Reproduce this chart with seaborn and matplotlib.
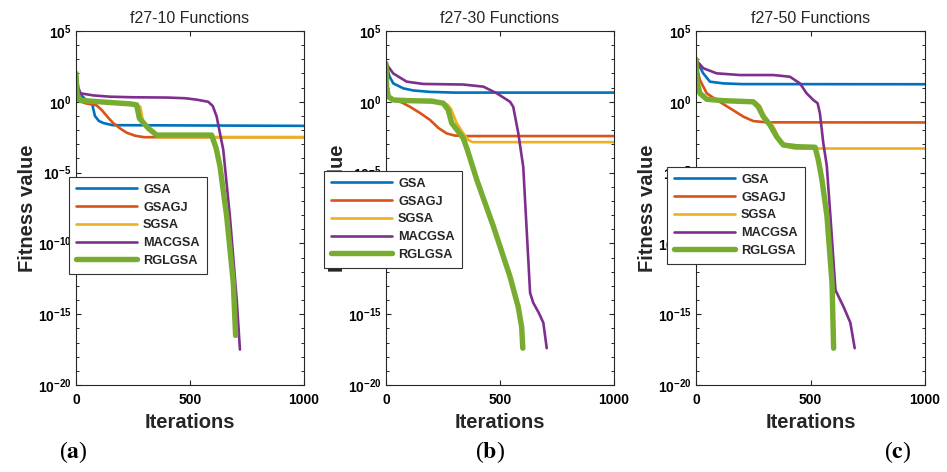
import numpy as np
import pandas as pd
import matplotlib
matplotlib.use('Agg')
import matplotlib.pyplot as plt
import seaborn as sns
from matplotlib.ticker import FixedLocator, NullFormatter

# Values: iteration and log10(fitness value)
algos = ['GSA', 'GSAGJ', 'SGSA', 'MACGSA', 'RGLGSA']
colors = ['#0072BD', '#D95319', '#EDB120', '#7E2F8E', '#77AC30']
titles = ['f27-10 Functions', 'f27-30 Functions', 'f27-50 Functions']
panel_tags = ['a', 'b', 'c']

# f27-10
gsa_10_it = [0, 10, 45, 70, 83, 100, 120, 160, 1000]
gsa_10_lg = [1.9, 0.7, 0.1, -0.1, -1.0, -1.35, -1.5, -1.65, -1.7]
gsagj_10_it = [0, 8, 40, 90, 113, 140, 163, 195, 222, 260, 300, 1000]
gsagj_10_lg = [1.9, 0.1, -0.1, -0.25, -0.58, -1.1, -1.5, -1.9, -2.18, -2.4, -2.5, -2.5]
sgsa_10_it = [0, 8, 40, 150, 260, 282, 292, 300, 330, 360, 1000]
sgsa_10_lg = [1.9, 0.2, 0.0, -0.1, -0.2, -0.35, -1.2, -1.5, -2.1, -2.5, -2.5]
macgsa_10_it = [0, 10, 20, 76, 150, 250, 400, 480, 530, 580, 600, 617, 646, 675, 705, 719]
macgsa_10_lg = [2.0, 1.0, 0.6, 0.45, 0.36, 0.32, 0.3, 0.25, 0.15, 0.0, -0.3, -1.05, -3.4, -8.1, -14.0, -17.5]
rgl_10_it = [0, 5, 20, 60, 150, 240, 266, 278, 317, 354, 595, 615, 632, 661, 690, 700]
rgl_10_lg = [2.0, 0.5, 0.1, 0.05, -0.05, -0.15, -0.22, -1.17, -1.87, -2.35, -2.35, -3.3, -4.6, -8.1, -12.8, -16.5]

# f27-30
gsa_30_it = [0, 15, 32, 76, 120, 193, 300, 1000]
gsa_30_lg = [2.7, 1.8, 1.3, 0.95, 0.8, 0.7, 0.65, 0.65]
gsagj_30_it = [0, 10, 32, 70, 105, 150, 193, 230, 266, 300, 340, 1000]
gsagj_30_lg = [2.7, 0.3, 0.13, -0.05, -0.35, -0.8, -1.28, -1.85, -2.23, -2.38, -2.42, -2.42]
sgsa_30_it = [0, 10, 40, 150, 250, 270, 285, 310, 339, 361, 380, 1000]
sgsa_30_lg = [2.7, 0.3, 0.05, 0.0, -0.05, -0.2, -0.5, -1.5, -2.23, -2.7, -2.85, -2.85]
macgsa_30_it = [0, 32, 91, 164, 250, 339, 427, 486, 520, 544, 558, 580, 602, 632, 646, 670, 690, 705]
macgsa_30_lg = [2.7, 2.0, 1.42, 1.26, 1.24, 1.22, 1.07, 0.6, 0.25, 0.0, -0.35, -2.2, -4.6, -13.5, -14.2, -14.9, -15.6, -17.4]
rgl_30_it = [0, 3, 10, 32, 100, 200, 251, 273, 288, 317, 339, 357, 398, 471, 544, 580, 595, 600]
rgl_30_lg = [2.7, 1.0, 0.36, 0.13, 0.08, 0.05, -0.1, -0.58, -1.5, -2.1, -2.58, -3.4, -5.5, -8.8, -12.35, -14.5, -15.9, -17.4]

# f27-50
gsa_50_it = [0, 15, 32, 61, 119, 200, 1000]
gsa_50_lg = [2.95, 2.5, 2.0, 1.42, 1.3, 1.25, 1.24]
gsagj_50_it = [0, 10, 17, 47, 90, 149, 207, 250, 308, 1000]
gsagj_50_lg = [2.95, 2.0, 1.54, 0.6, 0.13, -0.46, -1.05, -1.36, -1.45, -1.46]
sgsa_50_it = [0, 3, 17, 47, 119, 260, 280, 301, 338, 367, 396, 430, 1000]
sgsa_50_lg = [3.0, 1.54, 0.6, 0.18, 0.08, 0.0, -0.3, -1.05, -1.76, -2.7, -3.17, -3.3, -3.3]
macgsa_50_it = [0, 32, 90, 192, 338, 410, 454, 483, 512, 531, 541, 556, 571, 587, 609, 645, 674, 693]
macgsa_50_lg = [2.95, 2.37, 2.01, 1.89, 1.89, 1.77, 1.3, 0.6, 0.13, -0.1, -0.8, -2.93, -4.5, -8.1, -13.3, -14.5, -15.6, -17.4]
rgl_50_it = [0, 3, 17, 47, 119, 250, 272, 294, 323, 352, 381, 440, 520, 534, 550, 572, 594, 601]
rgl_50_lg = [3.0, 1.54, 0.6, 0.18, 0.08, 0.0, -0.35, -1.05, -1.64, -2.46, -3.05, -3.17, -3.21, -4.1, -5.5, -8.1, -12.8, -17.4]

panels = [
    [(gsa_10_it, gsa_10_lg), (gsagj_10_it, gsagj_10_lg), (sgsa_10_it, sgsa_10_lg),
     (macgsa_10_it, macgsa_10_lg), (rgl_10_it, rgl_10_lg)],
    [(gsa_30_it, gsa_30_lg), (gsagj_30_it, gsagj_30_lg), (sgsa_30_it, sgsa_30_lg),
     (macgsa_30_it, macgsa_30_lg), (rgl_30_it, rgl_30_lg)],
    [(gsa_50_it, gsa_50_lg), (gsagj_50_it, gsagj_50_lg), (sgsa_50_it, sgsa_50_lg),
     (macgsa_50_it, macgsa_50_lg), (rgl_50_it, rgl_50_lg)],
]

sns.set_theme(style='ticks')
plt.rcParams['font.family'] = ['Liberation Sans', 'DejaVu Sans']
plt.rcParams['font.weight'] = 'bold'
plt.rcParams['mathtext.fontset'] = 'custom'
plt.rcParams['mathtext.rm'] = 'Liberation Sans:bold'
plt.rcParams['mathtext.bf'] = 'Liberation Sans:bold'
plt.rcParams['axes.edgecolor'] = '#262626'
plt.rcParams['axes.linewidth'] = 0.8

fig = plt.figure(figsize=(9.47, 4.72), dpi=100)

ax_lefts = [76 / 947, 386 / 947, 696 / 947]
ax_widths = [228 / 947, 228 / 947, 229 / 947]
legend_anchor = [(-0.031, 0.588), (-0.272, 0.605), (-0.127, 0.616)]
tag_x = [73 / 947, 490 / 947, 898 / 947]

for i in range(3):
    ax = fig.add_axes([ax_lefts[i], 1 - 385 / 472, ax_widths[i], 354 / 472])
    for j, (it, lg) in enumerate(panels[i]):
        df = pd.DataFrame({'Iterations': it, 'Fitness value': 10.0 ** np.array(lg)})
        sns.lineplot(data=df, x='Iterations', y='Fitness value', ax=ax,
                     color=colors[j], linewidth=3.9 if j == 4 else 1.9,
                     label=algos[j], estimator=None, sort=False)
    ax.set_yscale('log')
    ax.set_xlim(0, 1000)
    ax.set_ylim(1e-20, 1e5)
    ax.set_xticks([0, 500, 1000])
    ax.set_xticklabels(['0', '500', '1000'], fontweight='bold')
    major = [5, 0, -5, -10, -15, -20]
    ax.yaxis.set_major_locator(FixedLocator([10.0 ** e for e in major]))
    ax.set_yticklabels([r'$\mathbf{10^{%d}}$' % e for e in major])
    ax.yaxis.set_minor_locator(FixedLocator([10.0 ** e for e in range(-20, 6)]))
    ax.yaxis.set_minor_formatter(NullFormatter())
    ax.tick_params(axis='both', which='major', direction='in', length=3.4, width=0.8,
                   left=True, bottom=True, top=True, right=True, labelsize=10,
                   colors='#262626', labelcolor='black')
    ax.tick_params(axis='y', which='major', pad=3)
    ax.tick_params(axis='x', which='major', pad=6)
    ax.tick_params(axis='y', which='minor', direction='in', length=2.4, width=0.7,
                   left=True, right=True, colors='#262626')
    ax.tick_params(axis='x', which='minor', bottom=False, top=False)
    ax.set_title(titles[i], fontsize=11.5, fontweight='normal', pad=6)
    ax.set_xlabel('Iterations', fontsize=14.5, fontweight='bold')
    ax.set_ylabel('Fitness value', fontsize=14.5, fontweight='bold')
    ax.xaxis.set_label_coords(0.5, -0.079)
    ax.yaxis.set_label_coords(-0.172, 0.5)
    for s in ax.spines.values():
        s.set_visible(True)
    leg = ax.legend(loc='upper left', bbox_to_anchor=legend_anchor[i], borderaxespad=0,
                    frameon=True, fancybox=False, framealpha=1, edgecolor='#333333',
                    handlelength=4.8, handletextpad=0.45, labelspacing=0.45,
                    borderpad=0.55, prop={'size': 9.2, 'weight': 'bold'})
    leg.get_frame().set_linewidth(0.8)
    leg.set_zorder(10)
    fig.text(tag_x[i], 1 - 452 / 472, r'($\mathbf{%s}$)' % panel_tags[i],
             family='Liberation Serif', fontweight='normal', math_fontfamily='stix',
             fontsize=17, ha='center', va='center', color='black')

fig.savefig('out.png', dpi=100, facecolor='white')
